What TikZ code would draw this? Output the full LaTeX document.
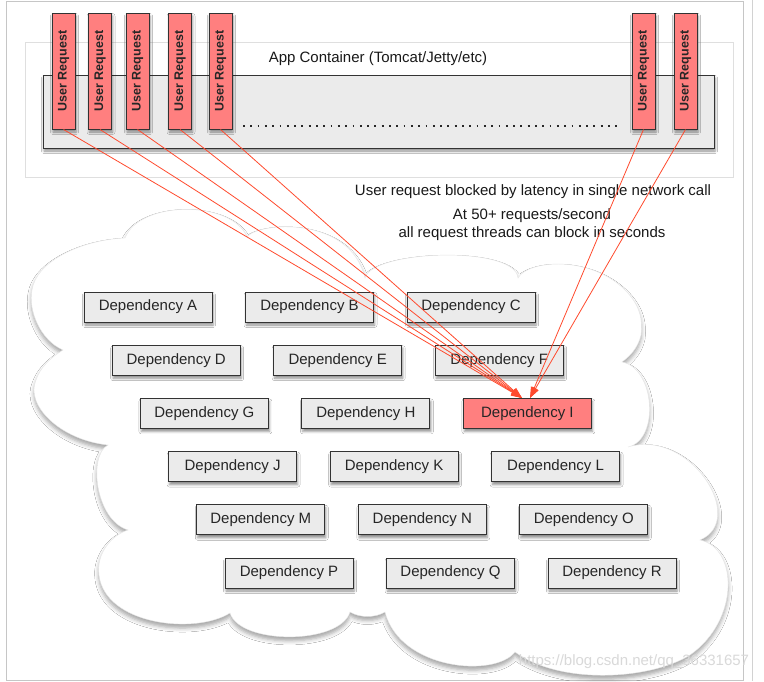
\documentclass[tikz,border=0pt]{standalone}
\usepackage{fontspec}
\setmainfont{Liberation Sans}
\usetikzlibrary{shadows.blur,arrows.meta}
\definecolor{salmon}{HTML}{FF7F7F}
\definecolor{boxgray}{HTML}{EBEBEB}
\definecolor{edgec}{HTML}{333333}
\definecolor{reqred}{HTML}{FF4A2E}
\begin{document}
\begin{tikzpicture}[x=1pt,y=-1pt,
  bigfont/.style={font=\fontsize{15}{18}\selectfont},
  softshadow/.style={blur shadow={shadow xshift=1pt, shadow yshift=-3pt, shadow blur radius=2.5pt, shadow opacity=45}},
  depbox/.style={draw=edgec, line width=1pt, fill=boxgray, minimum width=128pt, minimum height=30pt, inner sep=0pt, bigfont, text=black!85, softshadow},
  hotbox/.style={depbox, fill=salmon},
  ureq/.style={draw=edgec, line width=1pt, fill=salmon, minimum width=23pt, minimum height=116pt, inner sep=0pt, softshadow, font=\fontsize{12.5}{14}\selectfont\bfseries, text=black!85},
  reqline/.style={draw=reqred, line width=0.8pt, -{Triangle[length=11pt,width=7pt]}},
  txt/.style={bigfont, text=black!90, inner sep=0pt}
]
\useasboundingbox (0,0) rectangle (764,681);
\fill[white] (0,0) rectangle (764,681);
% outer frame
\draw[gray!45, line width=0.8pt] (6,1) rectangle (743,680);
\draw[gray!35, line width=0.8pt] (752,0) -- (752,681);

% cloud
\path[fill=white, draw=gray!20, line width=0.4pt,
  blur shadow={shadow xshift=0pt, shadow yshift=-4pt, shadow blur radius=4pt, shadow opacity=35}]
  (125,238) .. controls (140,200) and (232,200) .. (247,237)
  .. controls (258,222) and (350,215) .. (365,278)
  .. controls (372,250) and (515,245) .. (518,278)
  .. controls (528,260) and (590,255) .. (625,290)
  .. controls (640,305) and (643,320) .. (641,335)
  .. controls (638,348) and (630,356) .. (622,362)
  .. controls (655,368) and (660,440) .. (628,447)
  .. controls (690,428) and (748,520) .. (700,540)
  .. controls (738,548) and (740,620) .. (690,655)
  .. controls (650,680) and (560,685) .. (515,652)
  .. controls (495,678) and (400,670) .. (385,612)
  .. controls (375,618) and (360,618) .. (350,612)
  .. controls (340,645) and (240,645) .. (230,613)
  .. controls (195,635) and (105,625) .. (99,575)
  .. controls (96,553) and (112,535) .. (128,530)
  .. controls (95,520) and (88,455) .. (108,445)
  .. controls (60,440) and (25,405) .. (36,380)
  .. controls (40,368) and (50,358) .. (63,350)
  .. controls (40,340) and (28,310) .. (32,290)
  .. controls (36,262) and (80,240) .. (125,238) -- cycle;

% app container
\draw[gray!25, line width=0.8pt, fill=white] (25,42) rectangle (733,177);
\node[txt] (apptitle) at (378,59) {App Container (Tomcat/Jetty/etc)};
\node[draw=edgec, line width=1pt, fill=boxgray, minimum width=671pt, minimum height=73pt, inner sep=0pt, softshadow] (inner) at (378.5,111.5) {};
\draw[black!85, line width=1.8pt, dash pattern=on 1.8pt off 5.5pt] (243,126) -- (618,126);

% user requests
\foreach \n/\x in {1/63.5, 2/100, 3/137.5, 4/180, 5/220.5, 6/643.5, 7/685.5}
  \node[ureq] (u\n) at (\x,71) {\rotatebox{90}{User Request}};

% dependencies
\foreach \nm/\r/\c in {A/0/0, B/0/1, C/0/2, D/1/0, E/1/1, F/1/2, G/2/0, H/2/1, J/3/0, K/3/1, L/3/2, M/4/0, N/4/1, O/4/2, P/5/0, Q/5/1, R/5/2}
  \node[depbox] (d\nm) at ({148+28.2*\r+161.5*\c},{307+53.2*\r}) {\raisebox{-1pt}{Dependency \nm}};
\node[hotbox] (dI) at ({148+28.2*2+161.5*2},{307+53.2*2}) {\raisebox{-1pt}{Dependency I}};

% texts
\node[txt] (blocked) at (533,192) {User request blocked by latency in single network call};
\node[txt, align=center] (rate) at (532,225) {At 50+ requests/second\\all request threads can block in seconds};

% connectors
\coordinate (tipL) at (522,398);
\coordinate (tipR) at (530,398);
\foreach \n in {1,2,3,4,5}
  \draw[reqline] (u\n.south) -- (tipL);
\foreach \n in {6,7}
  \draw[reqline] (u\n.south) -- (tipR);

% watermark
\node[font=\fontsize{15}{18}\selectfont, text=gray!30, inner sep=0pt] (wm) at (634,662) {https://blog.csdn.net/qq\_36331657};
\end{tikzpicture}
\end{document}
